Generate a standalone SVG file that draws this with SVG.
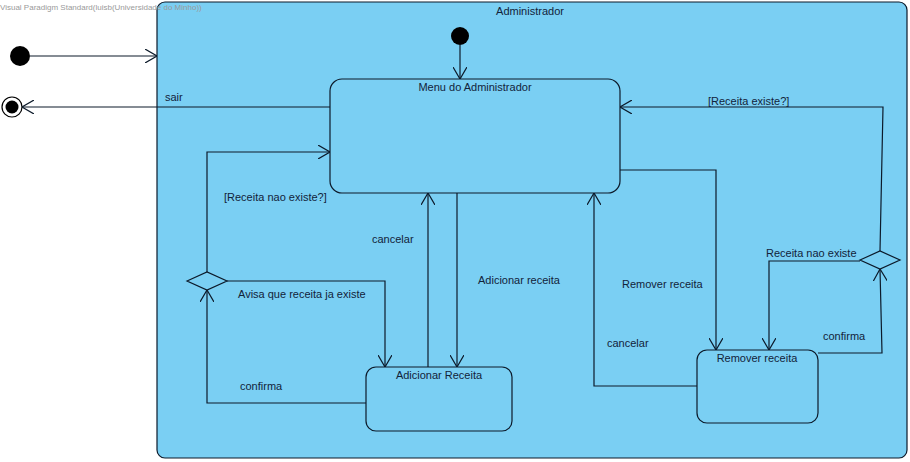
<svg xmlns="http://www.w3.org/2000/svg" width="910" height="462" viewBox="0 0 910 462">
  <style>
    .lbl { font-family: "Liberation Sans", Arial, sans-serif; font-size: 11px; fill: #12233a; }
    .mid { text-anchor: middle; }
    .state { fill: #7acff3; stroke: #0c1a2a; stroke-width: 1.2; }
    .edge { fill: none; stroke: #0c1a2a; stroke-width: 1.2; marker-end: url(#open); }
  </style>
  <defs>
    <marker id="open" viewBox="0 0 12 14" refX="12" refY="7" markerWidth="12" markerHeight="14" markerUnits="userSpaceOnUse" orient="auto">
      <path d="M0,0 L12,7 L0,14" fill="none" stroke="#0c1a2a" stroke-width="1.2"/>
    </marker>
  </defs>
  <rect width="910" height="462" fill="#ffffff"/>

  <!-- composite state -->
  <g id="administrador">
    <rect class="state" x="157" y="2" width="750" height="456" rx="8"/>
    <text class="lbl mid" x="530" y="15">Administrador</text>
  </g>

  <text x="0" y="10" font-family="Liberation Sans, Arial, sans-serif" font-size="8" fill="#9a9a9a">Visual Paradigm Standard(luisb(Universidade do Minho))</text>

  <!-- pseudo states -->
  <g id="initial-outer"><circle cx="20" cy="56" r="10" fill="#000"/></g>
  <g id="final">
    <circle cx="12" cy="107" r="10" fill="#fff" stroke="#000" stroke-width="1.2"/>
    <circle cx="12" cy="107" r="6.5" fill="#000"/>
  </g>
  <g id="initial-inner"><circle cx="460" cy="36" r="9" fill="#000"/></g>

  <g id="menu">
    <rect class="state" x="330" y="79" width="290" height="114" rx="12"/>
    <text class="lbl mid" x="475" y="91">Menu do Administrador</text>
  </g>
  <g id="adicionar">
    <rect class="state" x="366" y="367" width="146" height="64" rx="10"/>
    <text class="lbl mid" x="439" y="379">Adicionar Receita</text>
  </g>
  <g id="remover">
    <rect class="state" x="697" y="350" width="121" height="73" rx="10"/>
    <text class="lbl mid" x="757" y="362">Remover receita</text>
  </g>
  <g id="choice-left"><polygon class="state" points="187,281 207,272 227,281 207,290"/></g>
  <g id="choice-right"><polygon class="state" points="860,260 880,251 900,260 880,269"/></g>

  <g id="connectors">
    <path class="edge" d="M30,56 H157"/>
    <path class="edge" d="M330,107 H22"/>
    <path class="edge" d="M460,45 V79"/>
    <path class="edge" d="M207,272 V152 H330"/>
    <path class="edge" d="M227,281 H385 V367"/>
    <path class="edge" d="M366,403 H207 V290"/>
    <path class="edge" d="M428,367 V193"/>
    <path class="edge" d="M457,193 V367"/>
    <path class="edge" d="M620,170 H716 V350"/>
    <path class="edge" d="M697,386 H594 V193"/>
    <path class="edge" d="M818,353 H882 L880,269"/>
    <path class="edge" d="M860,261 H769 V350"/>
    <path class="edge" d="M880,251 L883,107 H620"/>
  </g>

  <g id="labels">
    <text class="lbl" x="165" y="101">sair</text>
    <text class="lbl" x="224" y="201">[Receita nao existe?]</text>
    <text class="lbl" x="238" y="298">Avisa que receita ja existe</text>
    <text class="lbl" x="240" y="390">confirma</text>
    <text class="lbl" x="372" y="243">cancelar</text>
    <text class="lbl" x="478" y="284">Adicionar receita</text>
    <text class="lbl" x="622" y="288">Remover receita</text>
    <text class="lbl" x="607" y="347">cancelar</text>
    <text class="lbl" x="823" y="340">confirma</text>
    <text class="lbl" x="766" y="257">Receita nao existe</text>
    <text class="lbl" x="708" y="105">[Receita existe?]</text>
  </g>
</svg>
